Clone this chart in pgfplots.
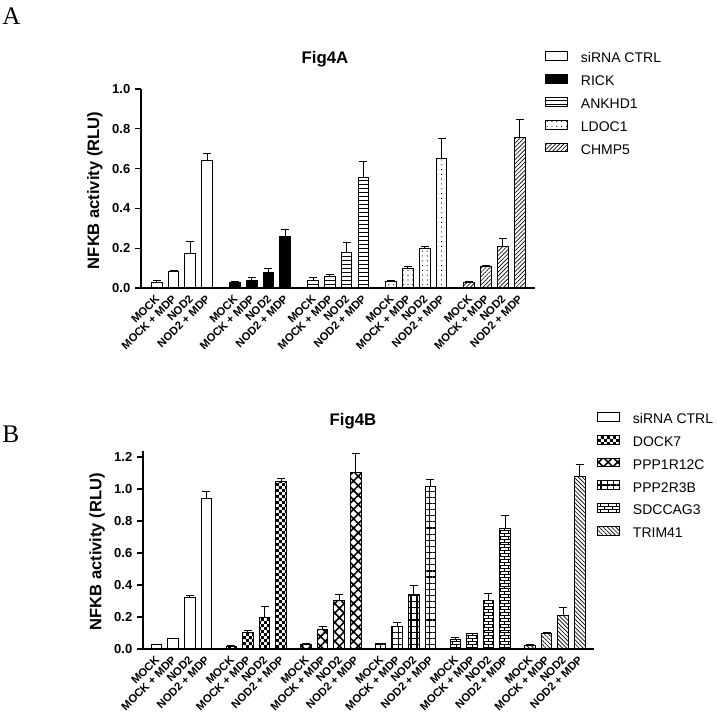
\documentclass[border=0pt]{standalone}
\usepackage{fontspec}
\setmainfont{Liberation Sans}
\newfontfamily\seriffont{Liberation Serif}
\usepackage{pgfplots}
\pgfplotsset{compat=1.18}
\usetikzlibrary{patterns,patterns.meta}

% small checkerboard (DOCK7)
\pgfdeclarepatternformonly{checks}{\pgfpointorigin}{\pgfqpoint{4.4pt}{4.4pt}}{\pgfqpoint{4.4pt}{4.4pt}}{%
  \pgfpathrectangle{\pgfpointorigin}{\pgfqpoint{2.2pt}{2.2pt}}%
  \pgfpathrectangle{\pgfqpoint{2.2pt}{2.2pt}}{\pgfqpoint{2.2pt}{2.2pt}}%
  \pgfusepath{fill}}
% small bricks (SDCCAG3)
\pgfdeclarepatternformonly{smallbricks}{\pgfqpoint{-0.5pt}{-0.5pt}}{\pgfqpoint{6.5pt}{5pt}}{\pgfqpoint{6pt}{4.4pt}}{%
  \pgfsetlinewidth{0.5pt}%
  \pgfpathmoveto{\pgfqpoint{0pt}{0pt}}\pgfpathlineto{\pgfqpoint{6pt}{0pt}}%
  \pgfpathmoveto{\pgfqpoint{0pt}{2.2pt}}\pgfpathlineto{\pgfqpoint{6pt}{2.2pt}}%
  \pgfpathmoveto{\pgfqpoint{0pt}{0pt}}\pgfpathlineto{\pgfqpoint{0pt}{2.2pt}}%
  \pgfpathmoveto{\pgfqpoint{3pt}{2.2pt}}\pgfpathlineto{\pgfqpoint{3pt}{4.4pt}}%
  \pgfusepath{stroke}}

\pgfplotsset{
  mybar/.style={ybar, bar width=0.64, bar shift=0pt, draw=black, line width=0.75pt,
    legend image code/.code={\draw[##1, line width=0.75pt] (0pt,-1pt) rectangle (16pt,5.6pt); \path (26pt,0pt);},
    /pgfplots/error bars/y dir=plus, /pgfplots/error bars/y explicit,
    /pgfplots/error bars/error bar style={black, line width=0.75pt, solid},
    /pgfplots/error bars/error mark options={rotate=90, black, mark size=3pt, line width=0.75pt, solid}},
  figax/.style={scale only axis, clip=false,
    axis x line*=bottom, axis y line*=left,
    axis line style={line width=1pt, -},
    ymin=0, tick align=outside, major tick length=4.5pt,
    ytick style={line width=1pt, black}, xtick style={draw=none},
    /pgf/number format/assume math mode=true,
    yticklabel style={font=\bfseries\fontsize{9.75}{11}\selectfont,
      /pgf/number format/.cd, fixed, fixed zerofill, precision=1},
    xticklabel style={rotate=45, anchor=east, font=\bfseries\fontsize{8.4}{9}\selectfont, inner sep=1pt, yshift=-2pt},
    ylabel={NFKB activity (RLU)},
    ylabel style={font=\bfseries\fontsize{12.4}{14}\selectfont},
    legend style={draw=none, fill=none, anchor=north west, inner sep=0pt,
      font=\fontsize{10.5}{12}\selectfont, row sep=6.4pt,
      nodes={inner sep=0pt, text height=7.5pt, text depth=2pt}},
    legend cell align=left}
}

\begin{document}
\begin{tikzpicture}
\useasboundingbox (0,0) rectangle (537.75pt,534pt);

\node[anchor=base west, font=\seriffont\fontsize{19}{20}\selectfont, inner sep=0pt] at (1.5pt,515.25pt) {A};
\node[anchor=base west, font=\seriffont\fontsize{19}{20}\selectfont, inner sep=0pt] at (1.5pt,201.75pt) {B};
\node[anchor=base, font=\bfseries\fontsize{12.6}{14}\selectfont, inner sep=0pt] at (243.75pt,486pt) {Fig4A};
\node[anchor=base, font=\bfseries\fontsize{12.6}{14}\selectfont, inner sep=0pt] at (264.75pt,214.5pt) {Fig4B};

% Panel A
\begin{axis}[figax, at={(105.75pt,318pt)}, anchor=south west,
  width=295.5pt, height=149.25pt,
  xmin=-0.935, xmax=22.51, ymax=1.0,
  ytick={0,0.2,0.4,0.6,0.8,1.0},
  xtick={0,1,2,3,4.65,5.65,6.65,7.65,9.3,10.3,11.3,12.3,13.95,14.95,15.95,16.95,18.6,19.6,20.6,21.6},
  xticklabels={MOCK,MOCK + MDP,NOD2,NOD2 + MDP,MOCK,MOCK + MDP,NOD2,NOD2 + MDP,MOCK,MOCK + MDP,NOD2,NOD2 + MDP,MOCK,MOCK + MDP,NOD2,NOD2 + MDP,MOCK,MOCK + MDP,NOD2,NOD2 + MDP},
  ylabel style={at={(rel axis cs:-0.117,0.49)}, anchor=center, rotate=0},
  legend style={at={(rel axis cs:1.0254,1.191)}}]
\addplot[mybar, fill=white] table[x=x, y=y, y error=e] {
x y e
0 0.030 0.006
1 0.082 0.006
2 0.174 0.061
3 0.643 0.032
};
\addlegendentry{siRNA CTRL}
\addplot[mybar, fill=black] table[x=x, y=y, y error=e] {
x y e
4.65 0.030 0.003
5.65 0.040 0.014
6.65 0.079 0.021
7.65 0.260 0.035
};
\addlegendentry{RICK}
\addplot[mybar, pattern={Lines[angle=0,distance=3pt,line width=0.7pt]}] table[x=x, y=y, y error=e] {
x y e
9.3 0.037 0.018
10.3 0.060 0.007
11.3 0.178 0.053
12.3 0.553 0.082
};
\addlegendentry{ANKHD1}
\addplot[mybar, pattern={Dots[distance=3.6pt,radius=0.45pt]}] table[x=x, y=y, y error=e] {
x y e
13.95 0.032 0.007
14.95 0.099 0.007
15.95 0.198 0.011
16.95 0.650 0.103
};
\addlegendentry{LDOC1}
\addplot[mybar, pattern={Lines[angle=45,distance=2.2pt,line width=0.5pt]}] table[x=x, y=y, y error=e] {
x y e
18.6 0.030 0.005
19.6 0.107 0.005
20.6 0.209 0.042
21.6 0.754 0.091
};
\addlegendentry{CHMP5}
\end{axis}

% Panel B
\begin{axis}[figax, at={(107.25pt,47.25pt)}, anchor=south west,
  width=338.25pt, height=148.8pt,
  xmin=-0.825, xmax=26.36, ymax=1.24,
  ytick={0,0.2,0.4,0.6,0.8,1.0,1.2},
  xtick={0,1,2,3,4.5,5.5,6.5,7.5,9,10,11,12,13.5,14.5,15.5,16.5,18,19,20,21,22.5,23.5,24.5,25.5},
  xticklabels={MOCK,MOCK + MDP,NOD2,NOD2 + MDP,MOCK,MOCK + MDP,NOD2,NOD2 + MDP,MOCK,MOCK + MDP,NOD2,NOD2 + MDP,MOCK,MOCK + MDP,NOD2,NOD2 + MDP,MOCK,MOCK + MDP,NOD2,NOD2 + MDP,MOCK,MOCK + MDP,NOD2,NOD2 + MDP},
  ylabel style={at={(rel axis cs:-0.102,0.49)}, anchor=center, rotate=0},
  legend style={at={(rel axis cs:1.0067,1.196)}}]
\addplot[mybar, fill=white] table[x=x, y=y, y error=e] {
x y e
0 0.027 0.003
1 0.066 0.002
2 0.319 0.014
3 0.938 0.045
};
\addlegendentry{siRNA CTRL}
\addplot[mybar, pattern=checks] table[x=x, y=y, y error=e] {
x y e
4.5 0.018 0.005
5.5 0.103 0.010
6.5 0.195 0.072
7.5 1.044 0.023
};
\addlegendentry{DOCK7}
\addplot[mybar, pattern={Hatch[angle=45,distance=5pt,line width=1.2pt]}] table[x=x, y=y, y error=e] {
x y e
9 0.030 0.004
10 0.120 0.018
11 0.304 0.038
12 1.104 0.119
};
\addlegendentry{PPP1R12C}
\addplot[mybar, pattern={Hatch[angle=0,distance=4.6pt,line width=0.9pt]}] table[x=x, y=y, y error=e] {
x y e
13.5 0.033 0.003
14.5 0.142 0.026
15.5 0.338 0.058
16.5 1.015 0.045
};
\addlegendentry{PPP2R3B}
\addplot[mybar, pattern=smallbricks] table[x=x, y=y, y error=e] {
x y e
18 0.061 0.008
19 0.094 0.003
20 0.306 0.038
21 0.754 0.079
};
\addlegendentry{SDCCAG3}
\addplot[mybar, pattern={Lines[angle=-45,distance=2.2pt,line width=0.5pt]}] table[x=x, y=y, y error=e] {
x y e
22.5 0.020 0.005
23.5 0.098 0.002
24.5 0.210 0.048
25.5 1.077 0.079
};
\addlegendentry{TRIM41}
\end{axis}
\end{tikzpicture}
\end{document}
